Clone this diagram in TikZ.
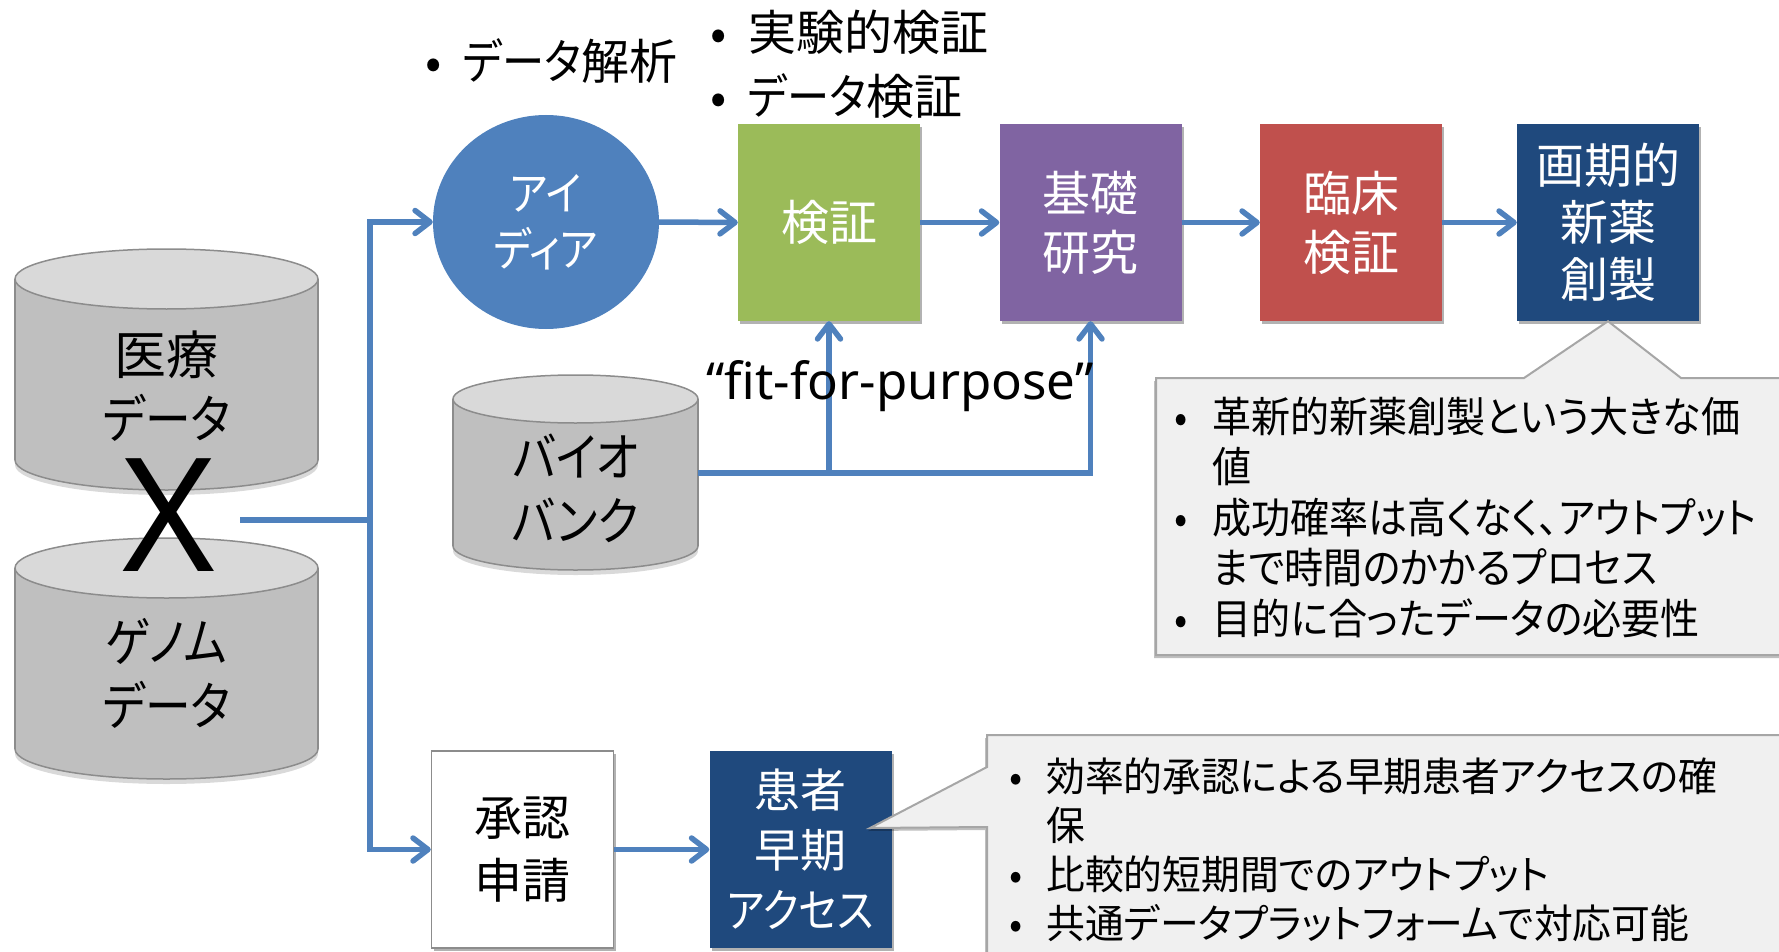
\documentclass[tikz,border=0pt]{standalone}
\usepackage{fontspec}
\setmainfont{Noto Sans CJK JP}[RawFeature={+palt}]
\newfontfamily\kanafont{Noto Sans CJK JP}[RawFeature={+palt}, FakeStretch=0.88]
\newfontfamily\latinfont{Noto Sans}
\newcommand\kn[1]{{\kanafont #1}}
\usetikzlibrary{arrows.meta,shapes.geometric,shadows}
\definecolor{accblue}{HTML}{4F81BD}
\definecolor{vgreen}{HTML}{9BBB59}
\definecolor{vpurple}{HTML}{8064A2}
\definecolor{vred}{HTML}{C0504D}
\definecolor{navy}{HTML}{1F497D}
\definecolor{cylbody}{HTML}{BFBFBF}
\definecolor{cyltop}{HTML}{D9D9D9}
\definecolor{cylline}{HTML}{8C8C8C}
\definecolor{callfill}{HTML}{F0F0F0}
\definecolor{callline}{HTML}{A6A6A6}
\newcommand\drawcyl[5]{%
  \pgfmathsetmacro\cylcx{(#1+#2)/2}%
  \pgfmathsetmacro\cylrx{(#2-#1)/2}%
  \fill[black, opacity=0.15] (\cylcx, #4-#5+5) ellipse [x radius=\cylrx pt, y radius=#5pt];
  \filldraw[fill=cylbody, draw=cylline, line width=1.5pt] (\cylcx, #4-#5) ellipse [x radius=\cylrx pt, y radius=#5pt];
  \fill[cylbody] (#1, #3+#5) rectangle (#2, #4-#5);
  \draw[cylline, line width=1.5pt] (#1,#3+#5) -- (#1,#4-#5) (#2,#3+#5) -- (#2,#4-#5);
  \filldraw[fill=cyltop, draw=cylline, line width=1.5pt] (\cylcx, #3+#5) ellipse [x radius=\cylrx pt, y radius=#5pt];
}
\tikzset{
  ln/.style={draw=accblue, line width=5.5pt},
  arr/.style={draw=accblue, line width=5.5pt, -{Straight Barb[length=15pt,width=23pt,round]}},
  procbox/.style={rectangle, minimum width=182pt, minimum height=197pt, inner sep=0pt,
    text=white, align=center, font=\fontsize{48}{59}\selectfont,
    drop shadow={shadow xshift=2pt, shadow yshift=-3pt, opacity=0.3, fill=black}},
  cyltext/.style={inner sep=0pt, align=center, font=\fontsize{52}{64}\selectfont},
  callout/.style={fill=callfill, draw=callline, line width=2pt,
    drop shadow={shadow xshift=-2pt, shadow yshift=-3pt, opacity=0.25, fill=black}},
  bullettext/.style={anchor=base west, inner sep=0pt, font=\fontsize{48}{64}\selectfont}
}
\begin{document}
\begin{tikzpicture}[x=1pt, y=-1pt]
\useasboundingbox (0,0) rectangle (1779,952);
\clip (0,0) rectangle (1779,952);

% cylinders
\drawcyl{15}{318}{249}{490}{30}
\drawcyl{15}{318}{538}{779}{30}
\drawcyl{453}{698}{375}{570}{24}
\node[cyltext, minimum width=303pt] (med) at (166.5, 386) {医療\\\kn{データ}};
\node[cyltext, minimum width=303pt] (gen) at (166.5, 673.5) {\kn{ゲノム}\\\kn{データ}};
\node[cyltext, minimum width=245pt] (bio) at (575.5, 488.5) {\kn{バイオ}\\\kn{バンク}};
\node[inner ysep=0pt, inner xsep=25pt, font=\latinfont\fontsize{158}{158}\selectfont] (X) at (169, 515.5) {X};

% top bullet texts
\node[bullettext] (b1) at (403, 80) {\makebox[60pt]{•}\kn{データ}解析};
\node[bullettext] (b2) at (688, 51) {\makebox[60pt]{•}実験的検証};
\node[bullettext] (b3) at (688, 115) {\makebox[60pt]{•}\kn{データ}検証};

% process nodes
\node[ellipse, fill=accblue, minimum width=226pt, minimum height=214pt, inner sep=0pt,
  text=white, align=center, font=\fontsize{46}{56}\selectfont] (idea) at (546,222) {\kn{アイ}\\\kn{ディア}};
\node[procbox, fill=vgreen] (ver) at (829, 222.5) {検証};
\node[procbox, fill=vpurple] (bas) at (1090.5, 222.5) {基礎\\研究};
\node[procbox, fill=vred] (cli) at (1351, 222.5) {臨床\\検証};
\node[procbox, fill=navy, font=\fontsize{48}{57}\selectfont] (new) at (1608, 222.5) {画期的\\新薬\\創製};
\node[procbox, fill=white, draw=cylline, line width=1.5pt, text=black, font=\fontsize{48}{63}\selectfont] (app) at (522.5, 849.5) {承認\\申請};
\node[procbox, fill=navy, font=\fontsize{46}{60}\selectfont] (pat) at (800.5, 849.5) {患者\\早期\\\kn{アクセス}};

% connectors
\coordinate (jct) at (370, 520);
\coordinate (bj) at (829, 473);
\draw[ln] (X.east |- jct) -- (jct);
\draw[arr] (jct) |- (idea.west);
\draw[arr] (jct) |- (app.west);
\draw[arr] (idea.east) -- (ver.west);
\draw[arr] (ver.east) -- (bas.west);
\draw[arr] (bas.east) -- (cli.west);
\draw[arr] (cli.east) -- (new.west);
\draw[arr] (app.east) -- (pat.west);
\draw[ln] (bio.east |- bj) -- (bj);
\draw[arr] (bj) -| (bas.south);
\draw[arr] (bj) -- (ver.south);

\node[inner sep=0pt, font=\latinfont\fontsize{51}{51}\selectfont] (fit) at (900, 386) {“fit-for-purpose”};

% callout 1
\path[callout] (1156,378) -- (1524,378) -- (new.south) -- (1681,378) -- (1795,378) -- (1795,655) -- (1156,655) -- cycle;
\node[anchor=base west, inner sep=0pt] (c1) at (1150, 432) {\scalebox{0.93}[1]{\begin{minipage}[t]{640pt}\fontsize{42}{50.5}\selectfont
\makebox[67pt]{•}革新的新薬創製という大きな価\\
\hspace*{67pt}値\\
\makebox[67pt]{•}成功確率は高くなく、アウトプット\\
\hspace*{67pt}まで時間のかかるプロセス\\
\makebox[67pt]{•}目的に合ったデータの必要性\end{minipage}}};

% callout 2
\path[callout] (987,735) -- (1795,735) -- (1795,965) -- (987,965) -- (987,827) -- (870,828) -- (987,767) -- cycle;
\node[anchor=base west, inner sep=0pt] (c2) at (986, 791) {\scalebox{0.97}[1]{\begin{minipage}[t]{800pt}\fontsize{40}{49}\selectfont
\makebox[62pt]{•}効率的承認による早期患者アクセスの確\\
\hspace*{62pt}保\\
\makebox[62pt]{•}比較的短期間でのアウトプット\\
\makebox[62pt]{•}共通データプラットフォームで対応可能\end{minipage}}};
\end{tikzpicture}
\end{document}
